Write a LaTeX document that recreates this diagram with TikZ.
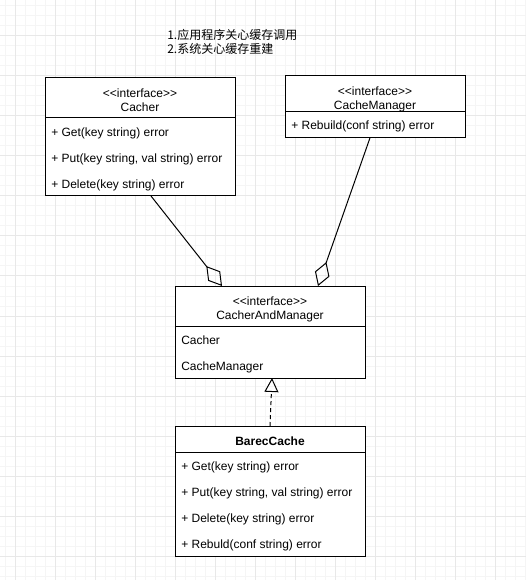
\documentclass[tikz,border=0pt]{standalone}
\usepackage{fontspec}
\setmainfont{Liberation Sans}
\newfontfamily\cjk{Noto Sans CJK SC}
\usetikzlibrary{arrows.meta, positioning, calc}
\definecolor{gridminor}{RGB}{245,245,245}
\definecolor{gridmajor}{RGB}{232,232,232}
\tikzset{
  classhead/.style={
    rectangle, draw=black, line width=0.75pt, fill=white,
    outer sep=0pt, inner sep=0pt,
    minimum width=142.5pt, minimum height=30pt,
    align=center, font=\fontsize{9}{10.5}\selectfont,
    text height=20.5pt
  },
  classbody/.style={
    rectangle, draw=black, line width=0.75pt, fill=white,
    outer sep=0pt, inner sep=0pt, minimum width=142.5pt
  },
  member/.style={
    anchor=west, inner sep=0pt, font=\fontsize{9}{10.5}\selectfont,
    text height=6.6pt, text depth=1.9pt
  },
  notes/.style={
    anchor=west, inner sep=0pt, align=left,
    font=\cjk\fontsize{9}{10.5}\selectfont
  },
  aggarrow/.style={line width=0.75pt,
    -{Diamond[open, length=19pt, width=11.5pt, line width=0.75pt]}},
  implarrow/.style={line width=0.75pt, dash pattern=on 3pt off 2.25pt,
    -{Triangle[open, length=10.5pt, width=10.5pt, line width=0.75pt]}}
}

\begin{document}
\begin{tikzpicture}[x=0.75pt, y=-0.75pt]

  \useasboundingbox (0,0) rectangle (526,580);

  %% --- background grid ---
  \foreach \gx in {5,15,...,525} \draw[gridminor, line width=0.75pt] (\gx,0) -- (\gx,580);
  \foreach \gy in {6,16,...,576} \draw[gridminor, line width=0.75pt] (0,\gy) -- (526,\gy);
  \foreach \gx in {15,55,...,495} \draw[gridmajor, line width=0.75pt] (\gx,0) -- (\gx,580);
  \foreach \gy in {36,76,...,556} \draw[gridmajor, line width=0.75pt] (0,\gy) -- (526,\gy);

  %% --- note ---
  \node[notes] (notes) at (167,42) {1.应用程序关心缓存调用\\2.系统关心缓存重建};

  %% --- Cacher ---
  \node[classhead, anchor=north west] (cacher) at (45,78) {<{}<interface>{}>\\Cacher};
  \node[classbody, minimum height=58.5pt, below=0pt of cacher] (cacherbody) {};
  \node[member] (cacherget) at (51,133) {+ Get(key string) error};
  \node[member] (cacherput) at (51,159) {+ Put(key string, val string) error};
  \node[member] (cacherdel) at (51,185) {+ Delete(key string) error};

  %% --- CacheManager ---
  \node[classhead, anchor=north west, minimum width=135pt, minimum height=26.25pt,
        text height=25pt] (cm) at (285,76) {<{}<interface>{}>\\CacheManager};
  \node[classbody, minimum width=135pt, minimum height=19.5pt, below=0pt of cm] (cmbody) {};
  \node[member] (cmrebuild) at (291,126.5) {+ Rebuild(conf string) error};

  %% --- CacherAndManager ---
  \node[classhead, anchor=north west, text height=21.5pt] (camhead) at (175,286) {<{}<interface>{}>\\CacherAndManager};
  \node[classbody, minimum height=39pt, below=0pt of camhead] (cambody) {};
  \node[member] (camcacher) at (181,341) {Cacher};
  \node[member] (cammanager) at (181,367) {CacheManager};

  %% --- BarecCache ---
  \node[classhead, anchor=north west, minimum height=19.5pt, text height=9.5pt,
        font=\fontsize{9}{10.5}\selectfont\bfseries] (barechead) at (175,426) {BarecCache};
  \node[classbody, minimum height=78pt, below=0pt of barechead] (barecbody) {};
  \node[member] (barecget) at (181,467) {+ Get(key string) error};
  \node[member] (barecput) at (181,493) {+ Put(key string, val string) error};
  \node[member] (barecdel) at (181,519) {+ Delete(key string) error};
  \node[member] (barecrebuild) at (181,545) {+ Rebuld(conf string) error};

  %% --- Arrows ---
  \draw[aggarrow] ($(cacherbody.south)+(11,0)$) -- ($(camhead.north)+(-48,0)$);
  \draw[aggarrow] ($(cmbody.south)+(-5,0)$) -- ($(camhead.north)+(48,0)$);
  \draw[implarrow] (barechead.north) -- ($(cambody.south)+(2,0)$);

\end{tikzpicture}
\end{document}
